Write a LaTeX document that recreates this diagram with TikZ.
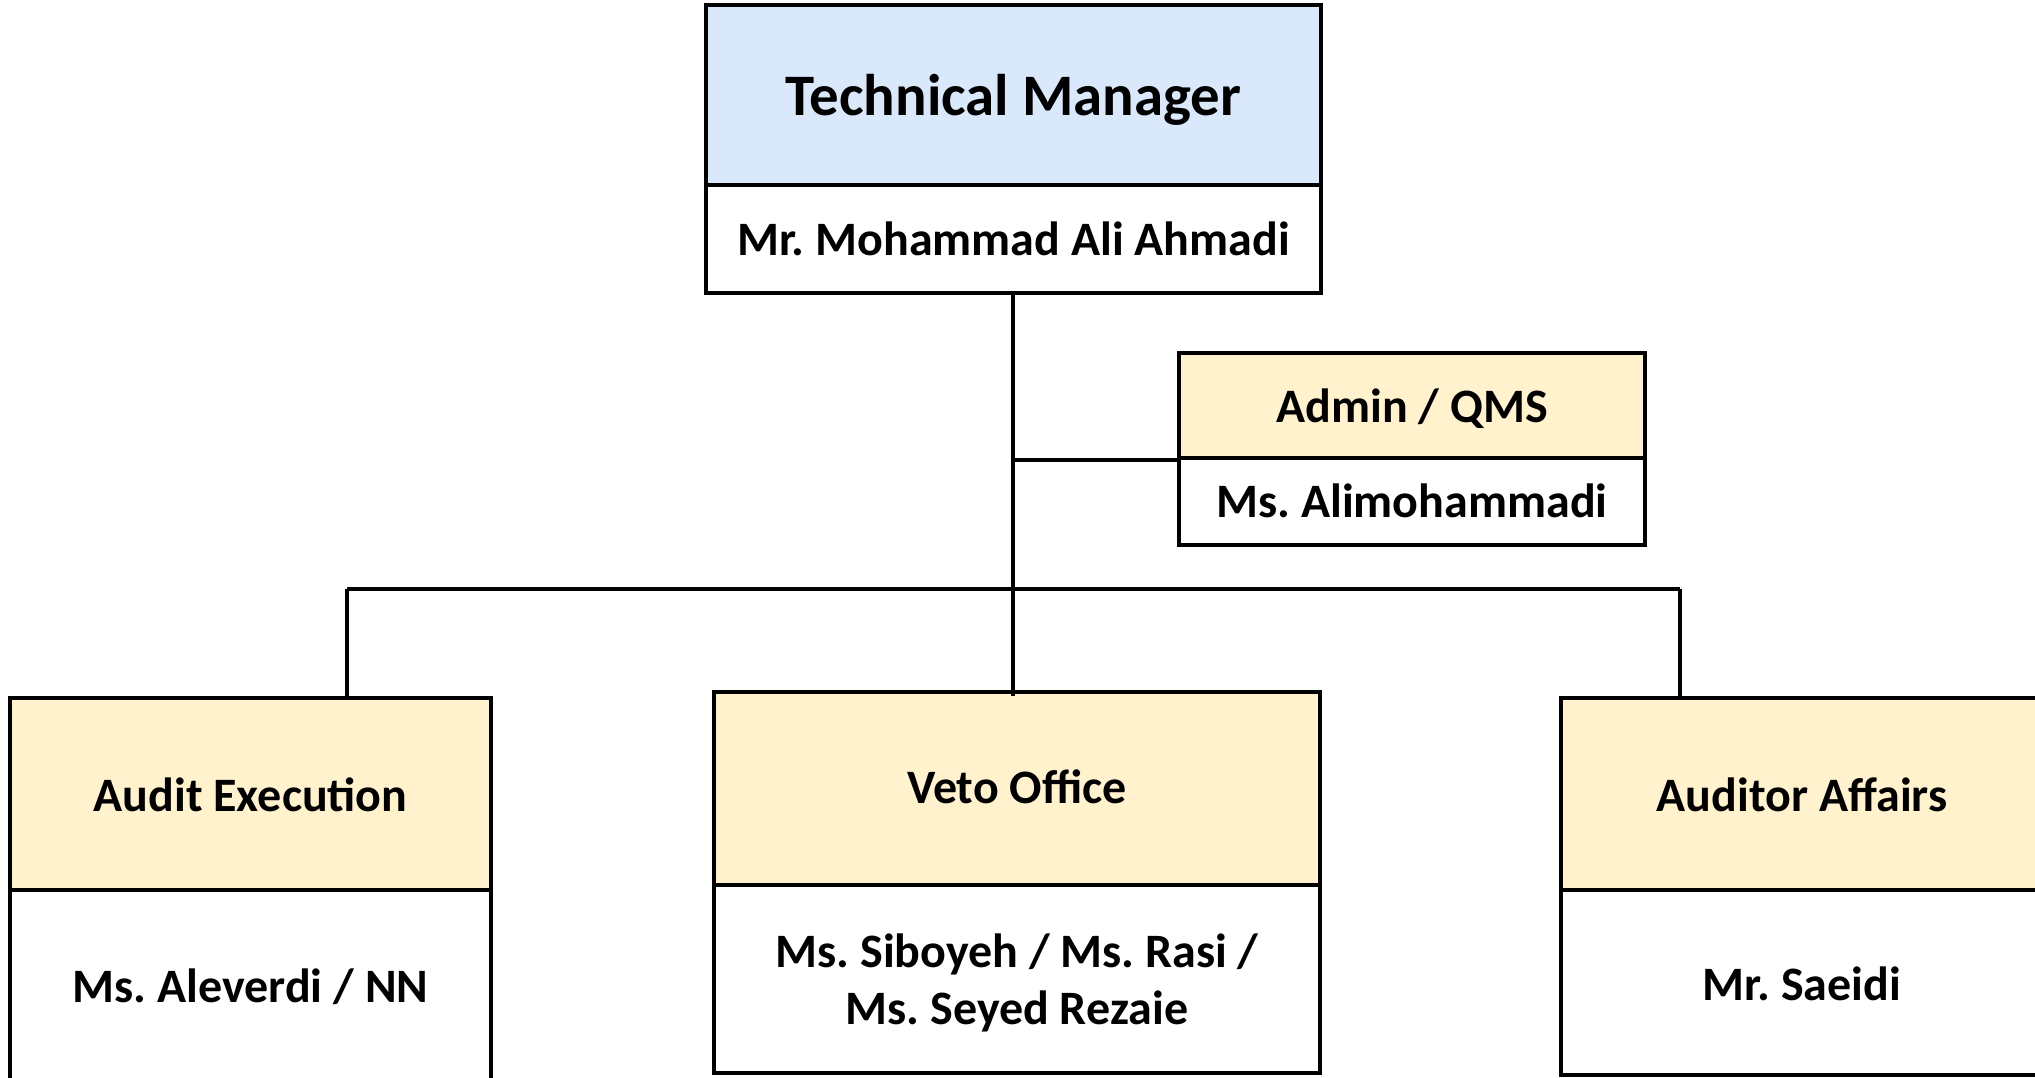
\documentclass[tikz,border=0pt]{standalone}
\usepackage{fontspec}
\setmainfont{Carlito}
\definecolor{headblue}{HTML}{DAE8FC}
\definecolor{headgold}{HTML}{FFF2CC}
\begin{document}
\frenchspacing
\begin{tikzpicture}[x=0.5pt,y=-0.5pt,
  box/.style={draw=black, line width=2pt, rectangle, inner sep=0pt, align=center,
     text depth=0pt, font=\bfseries\fontsize{24}{28.5}\selectfont},
  gold/.style={box, fill=headgold},
  blue/.style={box, fill=headblue, font=\bfseries\fontsize{29.4}{34}\selectfont},
  plain/.style={box, fill=white},
  wire/.style={draw=black, line width=1.8pt}]
\useasboundingbox (0,0) rectangle (2035,1077);
\clip (0,0) rectangle (2035,1077);
\fill[white] (0,0) rectangle (2035,1077);

% Technical Manager
\node[blue, minimum width=307.5pt, minimum height=90pt, text height=20pt] (tmT) at (1013.5,95) {Technical Manager};
\node[plain, minimum width=307.5pt, minimum height=54pt, text height=16pt] (tmN) at (1013.5,239) {Mr. Mohammad Ali Ahmadi};

% Admin / QMS
\node[gold, minimum width=233pt, minimum height=52.5pt, text height=16.5pt] (adT) at (1412,405.5) {Admin / QMS};
\node[plain, minimum width=233pt, minimum height=43.5pt, text height=15.5pt] (adN) at (1412,501.5) {Ms. Alimohammadi};

% Audit Execution
\node[gold, minimum width=240.5pt, minimum height=96pt, text height=17pt] (auT) at (250.5,794) {Audit Execution};
\node[plain, minimum width=240.5pt, minimum height=97.5pt, text height=14.5pt] (auN) at (250.5,987.5) {Ms. Aleverdi / NN};

% Veto Office
\node[gold, minimum width=303pt, minimum height=96.5pt, text height=14.5pt] (veT) at (1017,788.5) {Veto Office};
\node[plain, minimum width=303pt, minimum height=94pt] (veN) at (1017,979) {Ms. Siboyeh / Ms. Rasi /\\Ms. Seyed Rezaie};

% Auditor Affairs
\node[gold, minimum width=241pt, minimum height=96pt, text height=17pt] (afT) at (1802,794) {Auditor Affairs};
\node[plain, minimum width=241pt, minimum height=92.5pt, text height=17.5pt] (afN) at (1802,982.5) {Mr. Saeidi};

% connectors
\coordinate (trunk) at (1013,293);
\coordinate (tap) at (1013,460);
\coordinate (busL) at (347,589);
\coordinate (busR) at (1680,589);
\draw[wire] (trunk) -- (1013,696);
\draw[wire] (tap) -- (adT.south west);
\draw[wire] (busL) -- (busR);
\draw[wire] (busL) -- (busL |- auT.north);
\draw[wire] (busR) -- (busR |- afT.north);
\end{tikzpicture}
\end{document}
